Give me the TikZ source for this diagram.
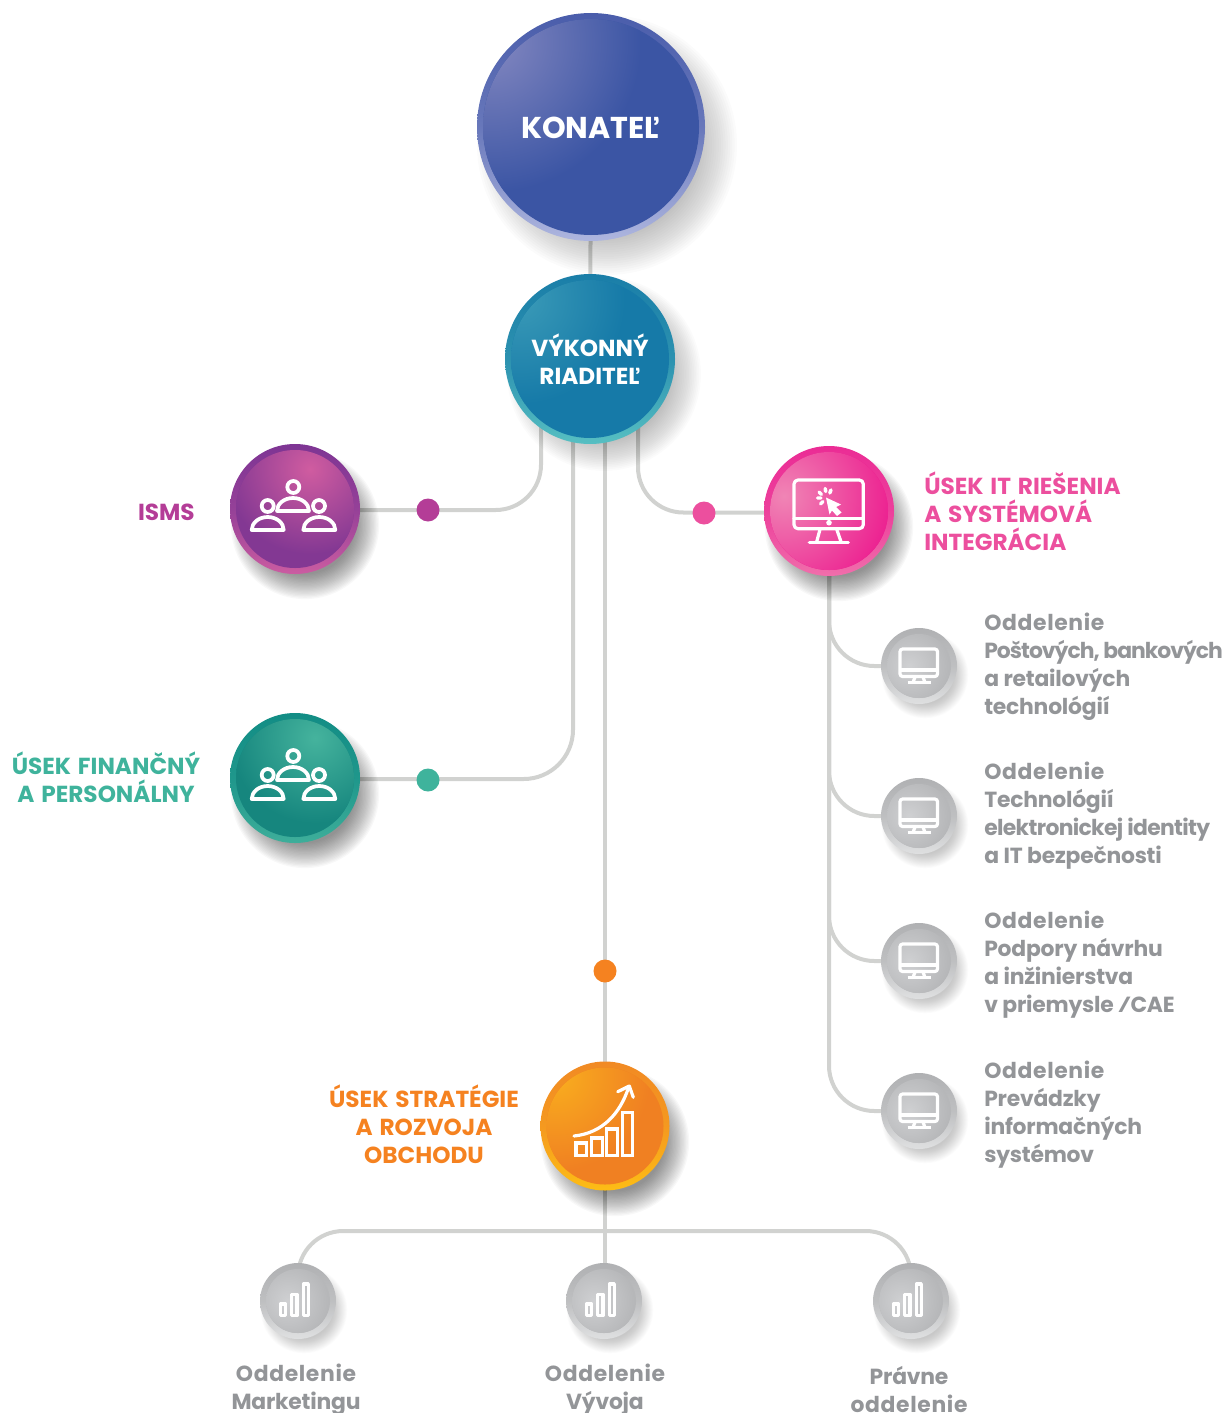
\documentclass[tikz,border=0pt]{standalone}
\usepackage{fontspec}
\setmainfont{Poppins}
\newfontfamily\labfam[WordSpace=1.4]{Poppins}
\usetikzlibrary{calc}
\definecolor{linegrey}{HTML}{D1D2D0}
\definecolor{txtgrey}{HTML}{939598}
\definecolor{cisms}{HTML}{B43D97}
\definecolor{cfin}{HTML}{3FB39C}
\definecolor{cit}{HTML}{EC4F9E}
\definecolor{cor}{HTML}{F58220}
\definecolor{konT}{HTML}{4A5DAB}\definecolor{konB}{HTML}{AEB6DF}\definecolor{konC}{HTML}{3B55A4}\definecolor{konH}{HTML}{8387C0}
\definecolor{vrT}{HTML}{1A7EA8}\definecolor{vrB}{HTML}{57BFC2}\definecolor{vrC}{HTML}{167AA8}\definecolor{vrH}{HTML}{3A9AB7}
\definecolor{isT}{HTML}{7E3594}\definecolor{isB}{HTML}{CB5CA1}\definecolor{isC}{HTML}{833893}\definecolor{isH}{HTML}{D05CA0}
\definecolor{fiT}{HTML}{128D85}\definecolor{fiB}{HTML}{3EAE9A}\definecolor{fiC}{HTML}{16867E}\definecolor{fiH}{HTML}{45B39D}
\definecolor{itT}{HTML}{EB2C95}\definecolor{itB}{HTML}{F06EAB}\definecolor{itC}{HTML}{EC1A8E}\definecolor{itH}{HTML}{F085B5}
\definecolor{orT}{HTML}{F18A24}\definecolor{orB}{HTML}{FDBD15}\definecolor{orC}{HTML}{F08022}\definecolor{orH}{HTML}{F9AE1E}
\definecolor{grT}{HTML}{B0B1B3}\definecolor{grB}{HTML}{DFE0E1}\definecolor{grC}{HTML}{B6B7B9}\definecolor{grH}{HTML}{CFD0D2}
\pgfdeclarelayer{edges}
\pgfdeclarelayer{shadows}
\pgfsetlayers{edges,shadows,main}
\newcommand{\oddspaced}[1]{{\addfontfeature{LetterSpace=3}#1}}
\newcommand{\tightline}[2]{{\addfontfeature{LetterSpace=#1}#2}}
\tikzset{
  disc/.style n args={8}{circle,inner sep=0pt,minimum size={1.5pt*#1},
    top color=#2,bottom color=#3,middle color=#2!70!#3,
    path picture={
      \begin{scope}
      \clip (path picture bounding box.center) circle ({#1-6});
      \fill[#4] (path picture bounding box.center) circle ({#1});
      \shade[inner color=#5,outer color=#4] ([shift={(#6,#7)}]path picture bounding box.center) circle (#8);
      \end{scope}}},
  greydisc/.style={disc={38}{grT}{grB}{grC}{grH}{-10}{0}{40}},
  connector/.style={draw=linegrey,line width=3pt},
  roundconn/.style={connector,rounded corners=34pt},
  dotmark/.style={circle,inner sep=0pt,minimum size=17.25pt,fill=#1},
  icon/.style={draw=white,line width=2.8pt,line cap=round,line join=round},
  thinicon/.style={icon,line width=2.4pt},
  smallicon/.style={draw=white,line width=2.4pt,line join=round},
  lab/.style={font=\labfam\fontsize{17.4pt}{21pt}\selectfont\bfseries,inner sep=0pt},
  greyfont/.style={font=\fontsize{16.4pt}{21pt}\selectfont\bfseries\addfontfeature{LetterSpace=-1},inner sep=0pt,text=txtgrey},
  disctext/.style={lab,text=white,align=center},
  greylab/.style={greyfont,align=left,anchor=west},
  greycent/.style={greyfont,align=center},
}
% #1 node, #2 radius, #3 dx, #4 dy, #5 opacity of one layer
\newcommand{\dropshadow}[5]{%
  \begin{pgfonlayer}{shadows}
  \foreach \f in {1.14,1.12,1.10,1.08,1.06,1.04,1.02,1.00,0.98,0.96,0.94,0.92,0.90,0.88,0.86,0.84,0.82,0.80,0.78,0.76}
    \fill[black,opacity=#5] ([shift={(#3,#4)}]#1.center) circle ({#2*\f});
  \end{pgfonlayer}}
\newcommand{\peopleicon}[1]{%
  \begin{scope}[shift={(#1.center)}]
    \foreach \a/\b in {-1.7/-22,-27.3/-3,24/-3}{
      \draw[icon] (\a,\b) circle (6);
    }
    \draw[icon] (-18,2) arc[start angle=180,end angle=360,x radius=16,y radius=13] -- cycle;
    \draw[icon] (-43.3,21) arc[start angle=180,end angle=360,x radius=16,y radius=13] -- cycle;
    \draw[icon] (8.3,21) arc[start angle=180,end angle=360,x radius=16,y radius=13] -- cycle;
  \end{scope}}
\newcommand{\smallmonitor}[1]{%
  \begin{scope}[shift={(#1.center)}]
    \draw[smallicon,rounded corners=2pt] (-19,-17) rectangle (18.5,10.5);
    \draw[smallicon] (-19,4) -- (18.5,4);
    \draw[smallicon] (-4,11) -- (-6,16.5) (4,11) -- (6,16.5);
    \draw[smallicon] (-11.5,16.5) -- (11.5,16.5);
  \end{scope}}
\newcommand{\smallchart}[1]{%
  \begin{scope}[shift={(#1.center)}]
    \draw[smallicon] (-17.5,3) rectangle (-12.5,14.5);
    \draw[smallicon] (-6.3,-6.5) rectangle (-1,14.5);
    \draw[smallicon] (5.3,-17) rectangle (10.3,14.5);
  \end{scope}}
\begin{document}
\begin{tikzpicture}[x=0.75pt,y=-0.75pt]
\useasboundingbox (0,0) rectangle (1223,1413);
% discs
\node[disc={114}{konT}{konB}{konC}{konH}{-100}{-85}{150}] (kon) at (591,127) {};
\node[disc={85}{vrT}{vrB}{vrC}{vrH}{-70}{-60}{105}] (vr) at (590,359) {};
\node[disc={65}{isT}{isB}{isC}{isH}{15}{-40}{85}] (isms) at (295,509) {};
\node[disc={65}{fiT}{fiB}{fiC}{fiH}{20}{-40}{85}] (fin) at (295,778) {};
\node[disc={65}{itT}{itB}{itC}{itH}{-45}{-15}{115}] (it) at (829,511) {};
\node[disc={64.5}{orT}{orB}{orC}{orH}{-50}{-50}{95}] (ors) at (605,1126) {};
\node[greydisc] (g1) at (919,666) {};
\node[greydisc] (g2) at (919,816) {};
\node[greydisc] (g3) at (919,961) {};
\node[greydisc] (g4) at (919,1111) {};
\node[greydisc] (b1) at (298,1301) {};
\node[greydisc] (b2) at (604,1301) {};
\node[greydisc] (b3) at (911,1301) {};
\coordinate (bus) at (605,1231);
% shadows
\dropshadow{kon}{114}{16}{18}{0.016}
\dropshadow{vr}{85}{14}{15}{0.017}
\dropshadow{isms}{65}{10}{16}{0.027}
\dropshadow{fin}{65}{10}{16}{0.027}
\dropshadow{it}{65}{10}{16}{0.027}
\dropshadow{ors}{65}{10}{16}{0.027}
\foreach \n in {g1,g2,g3,g4,b1,b2,b3}{\dropshadow{\n}{38}{6}{9}{0.013}}
% connectors
\begin{pgfonlayer}{edges}
\draw[connector] (kon.center) -- (vr.center);
\draw[roundconn] ([shift={(-49,0)}]vr.center) |- ([shift={(0,1)}]isms.center);
\draw[roundconn,rounded corners=37pt] ([shift={(-17,0)}]vr.center) |- ([shift={(0,1)}]fin.center);
\draw[connector] ([shift={(15,0)}]vr.center) -- (ors.center);
\draw[roundconn] ([shift={(48,0)}]vr.center) |- ([shift={(0,1.5)}]it.center);
\draw[roundconn] (it.center) |- (g1.center);
\draw[roundconn] (it.center) |- (g2.center);
\draw[roundconn] (it.center) |- (g3.center);
\draw[roundconn] (it.center) |- (g4.center);
\draw[connector] (ors.center) -- ([shift={(1,0)}]b2.center);
\draw[roundconn] (b1.center) -- (b1.center |- bus) -- (b3.center |- bus) -- (b3.center);
\end{pgfonlayer}
% dots
\node[dotmark=cisms] (d1) at (428,510) {};
\node[dotmark=cfin] (d2) at (428,780) {};
\node[dotmark=cit] (d3) at (704,513) {};
\node[dotmark=cor] (d4) at (605,971) {};
% icons
\peopleicon{isms}
\peopleicon{fin}
\begin{scope}[shift={(it.center)}]
  \draw[thinicon,rounded corners=3pt] (-35,-31) rectangle (34.3,17.7);
  \draw[thinicon] (-35,7.3) -- (34.3,7.3);
  \fill[white] (0,11.7) circle (2.8);
  \draw[thinicon] (-9,18.3) -- (-12.3,30.7) (7.7,18.3) -- (12,30.7);
  \draw[thinicon] (-19.7,31.3) -- (19.3,31.3);
  \fill[white] (-3,-13.5) -- (12,-6.5) -- (7,-4) -- (12.5,1.5) -- (8,5) -- (3,-0.5) -- (0.5,3.5) -- cycle;
  \draw[icon,line width=2.6pt] (-3.8,-22.5) -- (-3.3,-19.5) (2,-21) -- (0.8,-18) (-10,-19) -- (-7.5,-16.5) (-11.5,-13) -- (-8,-13) (-8.5,-7) -- (-6,-9.5);
\end{scope}
\foreach \n in {g1,g2,g3,g4}{\smallmonitor{\n}}
\begin{scope}[shift={(ors.center)}]
  \draw[thinicon,line cap=butt,line join=miter] (-29,17) rectangle (-18.3,29.5);
  \draw[thinicon,line cap=butt,line join=miter] (-13.3,12) rectangle (-2.7,29.5);
  \draw[thinicon,line cap=butt,line join=miter] (1.7,3) rectangle (12.7,29.5);
  \draw[thinicon,line cap=butt,line join=miter] (17.3,-13.3) rectangle (27.7,29.5);
  \draw[thinicon] (-31,10) .. controls (-2,7) and (15,-13) .. (23.3,-37.7);
  \draw[thinicon] (12.7,-34.3) -- (24.3,-40) -- (28.3,-28.7);
\end{scope}
\foreach \n in {b1,b2,b3}{\smallchart{\n}}
% texts
\node[lab,text=white,font=\fontsize{22.6pt}{24pt}\selectfont\bfseries] (tkon) at (591,128) {KONATEĽ};
\node[disctext] (tvr) at (590,359) {VÝKONNÝ\\RIADITEĽ};
\node[lab,text=cisms,anchor=east] (tisms) at (195,512) {ISMS};
\node[lab,text=cfin,align=center] (tfin) at (106,777) {ÚSEK FINANČNÝ\\A PERSONÁLNY};
\node[lab,text=cit,align=left,anchor=west] (tit) at (924,511) {ÚSEK IT RIEŠENIA\\A SYSTÉMOVÁ\\INTEGRÁCIA};
\node[lab,text=cor,align=center] (tor) at (424,1124) {ÚSEK STRATÉGIE\\A ROZVOJA\\OBCHODU};
\node[greylab] (t1) at (984,667) {\oddspaced{Oddelenie}\\\tightline{-4.5}{Poštových, bankových}\\a retailových\\technológií};
\node[greylab] (t2) at (984,816) {\oddspaced{Oddelenie}\\Technológií\\\tightline{-3}{elektronickej identity}\\a IT bezpečnosti};
\node[greylab] (t3) at (984,965) {\oddspaced{Oddelenie}\\Podpory návrhu\\a inžinierstva\\v priemysle ⁄CAE};
\node[greylab] (t4) at (984,1115) {\oddspaced{Oddelenie}\\Prevádzky\\informačných\\systémov};
\node[greycent] (t5) at (296,1390) {\oddspaced{Oddelenie}\\Marketingu};
\node[greycent] (t6) at (605,1390) {\oddspaced{Oddelenie}\\Vývoja};
\node[greycent] (t7) at (909,1389) {Právne\\\oddspaced{oddelenie}};
\end{tikzpicture}
\end{document}
